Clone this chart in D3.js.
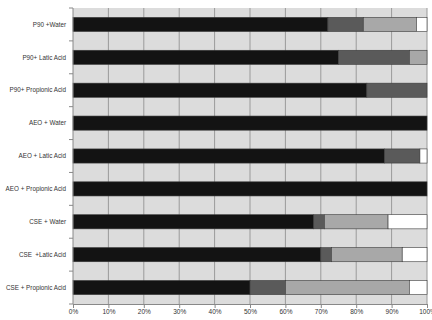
<!DOCTYPE html>
<html>
<head>
<meta charset="utf-8">
<script src="https://cdn.jsdelivr.net/npm/d3@7"></script>
<style>
  body { margin: 0; background: #fff; }
  text { font-family: "Liberation Sans", Arial, sans-serif; }
</style>
</head>
<body>
<script>
(function(){
    var categories = ["P90 +Water", "P90+ Latic Acid", "P90+ Propionic Acid",
        "AEO + Water", "AEO + Latic Acid", "AEO + Propionic Acid",
        "CSE + Water", "CSE  +Latic Acid", "CSE + Propionic Acid"];
    // four stacked segments per row, percent
    var seg1 = [72, 75, 83, 100, 88, 100, 68, 70, 50];
    var seg2 = [10, 20, 17, 0, 10, 0, 3, 3, 10];
    var seg3 = [15, 5, 0, 0, 0, 0, 18, 20, 35];
    var seg4 = [3, 0, 0, 0, 2, 0, 11, 7, 5];
    var tickValues = [0, 10, 20, 30, 40, 50, 60, 70, 80, 90, 100];
    var colors = ["#131313", "#5a5a5a", "#a8a8a8", "#ffffff"];

    var W = 432, H = 320;
    var m = {left: 73, right: 5, top: 8, bottom: 16};
    var pw = W - m.left - m.right, ph = H - m.top - m.bottom;

    var rows = categories.map(function(c, i) {
        return {cat: c, vals: [seg1[i], seg2[i], seg3[i], seg4[i]]};
    });

    var svg = d3.select("body").append("svg")
        .attr("width", W).attr("height", H);

    var x = d3.scaleLinear().domain([0, 100]).range([0, pw]);
    var y = d3.scaleBand().domain(categories).range([0, ph])
        .paddingInner(0.57).paddingOuter(0.285);

    var g = svg.append("g").attr("transform", "translate(" + m.left + "," + m.top + ")");

    g.append("rect").attr("width", pw).attr("height", ph).attr("fill", "#dcdcdc");

    // vertical gridlines
    g.selectAll("line.grid").data(tickValues.slice(1)).enter()
        .append("line").attr("class", "grid")
        .attr("x1", function(d) { return x(d); }).attr("x2", function(d) { return x(d); })
        .attr("y1", 0).attr("y2", ph)
        .attr("stroke", "#9a9a9a").attr("stroke-width", 1);

    // stacked bars
    var rowG = g.selectAll("g.row").data(rows).enter()
        .append("g").attr("class", "row")
        .attr("transform", function(d) { return "translate(0," + y(d.cat) + ")"; });

    rowG.selectAll("rect").data(function(d) {
        var acc = 0;
        return d.vals.map(function(v, k) {
            var s = {x0: acc, x1: acc + v, k: k};
            acc += v;
            return s;
        }).filter(function(s) { return s.x1 > s.x0; });
    }).enter().append("rect")
        .attr("x", function(s) { return x(s.x0); })
        .attr("width", function(s) { return x(s.x1) - x(s.x0); })
        .attr("height", y.bandwidth())
        .attr("fill", function(s) { return colors[s.k]; })
        .attr("stroke", "#3a3a3a").attr("stroke-width", 0.6);

    // bottom axis
    var xAxis = d3.axisBottom(x).tickValues(tickValues)
        .tickFormat(function(d) { return d + "%"; }).tickSize(4).tickSizeOuter(0);
    var ax = g.append("g").attr("transform", "translate(0," + ph + ")").call(xAxis);
    ax.select(".domain").attr("stroke", "#888");
    ax.selectAll(".tick line").attr("stroke", "#888");
    ax.selectAll(".tick text").attr("font-size", 6.5).attr("fill", "#333")
        .attr("font-family", "Liberation Sans, Arial, sans-serif").attr("dy", "0.45em");

    // left axis: ticks between categories
    var bounds = d3.range(categories.length + 1).map(function(i) { return i * y.step(); });
    g.append("line").attr("x1", 0).attr("x2", 0).attr("y1", 0).attr("y2", ph)
        .attr("stroke", "#888");
    g.selectAll("line.ytick").data(bounds).enter()
        .append("line").attr("class", "ytick")
        .attr("x1", -4).attr("x2", 0)
        .attr("y1", function(d) { return d; }).attr("y2", function(d) { return d; })
        .attr("stroke", "#888");

    g.selectAll("text.cat").data(categories).enter()
        .append("text").attr("class", "cat")
        .attr("x", -7)
        .attr("y", function(d) { return y(d) + y.bandwidth() / 2; })
        .attr("dy", "0.35em")
        .attr("text-anchor", "end")
        .attr("font-size", 6.3).attr("fill", "#333")
        .style("white-space", "pre")
        .text(function(d) { return d; });
})();
</script>
</body>
</html>
